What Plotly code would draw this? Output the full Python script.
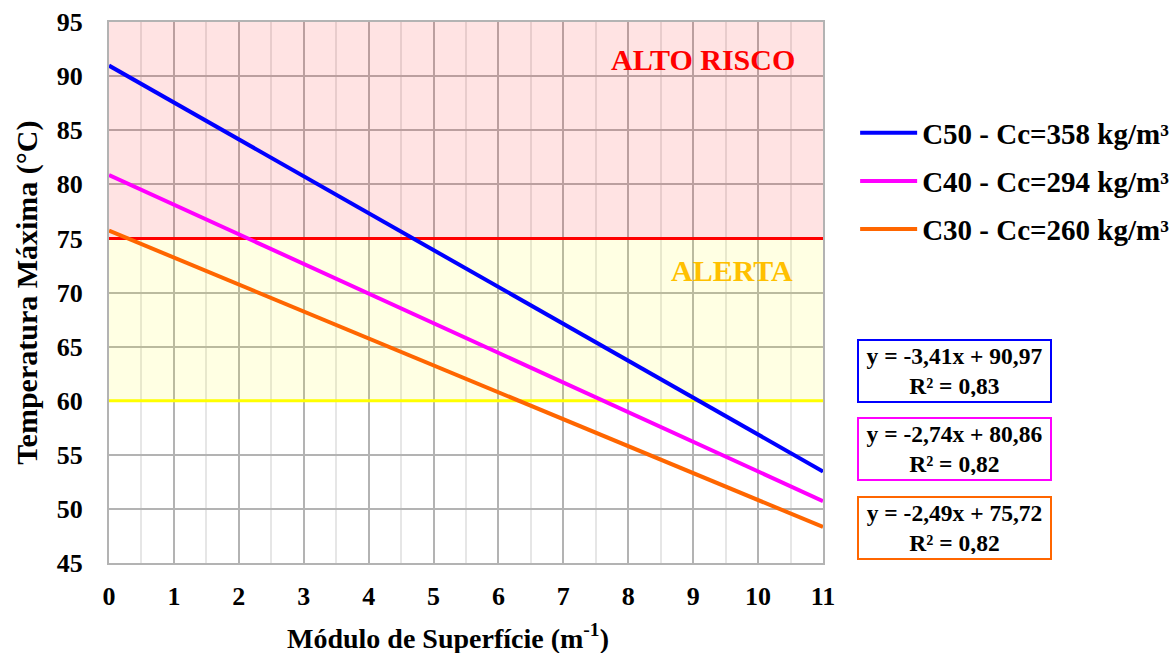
import plotly.graph_objects as go

# Trend lines: temperature vs. surface modulus for three concrete classes
series_names = ["C50 - Cc=358 kg/m³", "C40 - Cc=294 kg/m³", "C30 - Cc=260 kg/m³"]
slopes = [-3.41, -2.74, -2.49]
intercepts = [90.97, 80.86, 75.72]
r_squared = [0.83, 0.82, 0.82]
x_range = [0, 11]
colors = ["#0000ff", "#ff00ff", "#ff6600"]

# Risk thresholds (°C)
alert_limit = 60
high_risk_limit = 75
y_min, y_max = 45, 95

x_ticks = list(range(0, 12))
y_ticks = list(range(45, 100, 5))

FONT = "Liberation Serif, Times New Roman, serif"


def fmt(v):
    return f"{v:.2f}".replace(".", ",")


fig = go.Figure()

x0, x1 = x_range

# Shaded risk zones (semi-transparent, drawn over the grid)
zones = [
    (high_risk_limit, y_max, "rgba(255,0,0,0.11)"),
    (alert_limit, high_risk_limit, "rgba(255,255,0,0.11)"),
]
for lo, hi, fc in zones:
    fig.add_trace(go.Scatter(
        x=[x0, x1, x1, x0, x0], y=[lo, lo, hi, hi, lo],
        mode="lines", fill="toself", fillcolor=fc, line=dict(width=0),
        showlegend=False, hoverinfo="skip",
    ))

# Threshold lines
for level, c in [(high_risk_limit, "#ff0000"), (alert_limit, "#ffff00")]:
    fig.add_trace(go.Scatter(
        x=x_range, y=[level, level], mode="lines",
        line=dict(color=c, width=3), showlegend=False, hoverinfo="skip",
    ))

legend_names = ["legend", "legend2", "legend3"]
for name, m, b, c, lg in zip(series_names, slopes, intercepts, colors, legend_names):
    fig.add_trace(go.Scatter(
        x=x_range,
        y=[m * x + b for x in x_range],
        mode="lines",
        name=name,
        line=dict(color=c, width=4),
        legend=lg,
        showlegend=True,
        hoverinfo="skip",
    ))

# Zone labels
fig.add_annotation(x=9.15, y=91.5, xref="x", yref="y", text="ALTO RISCO",
                   showarrow=False, font=dict(family=FONT, size=30, color="#ff0000", weight="bold"))
fig.add_annotation(x=9.6, y=72.0, xref="x", yref="y", text="ALERTA",
                   showarrow=False, font=dict(family=FONT, size=30, color="#ffc000", weight="bold"))

# Equation boxes
eq_y = [0.355, 0.211, 0.065]
for m, b, r2, c, yy in zip(slopes, intercepts, r_squared, colors, eq_y):
    fig.add_annotation(
        x=1.0476, y=yy, xref="paper", yref="paper", xanchor="left", yanchor="middle",
        text=f"y = {fmt(m)}x + {fmt(b)}<br>R² = {fmt(r2)}",
        showarrow=False, align="center",
        font=dict(family=FONT, size=23.5, color="black", weight="bold"),
        bordercolor=c, borderwidth=2, borderpad=4, bgcolor="white",
        width=183, height=52,
    )

# Axis titles
fig.add_annotation(x=0.475, y=-0.136, xref="paper", yref="paper", yanchor="middle",
                   text="Módulo de Superfície (m<sup>-1</sup>)", showarrow=False,
                   font=dict(family=FONT, size=28, color="black", weight="bold"))
fig.add_annotation(x=-0.116, y=0.5, xref="paper", yref="paper", xanchor="center",
                   text="Temperatura Máxima (°C)", showarrow=False, textangle=-90,
                   font=dict(family=FONT, size=30, color="black", weight="bold"))

legend_common = dict(
    xref="paper", yref="paper", xanchor="left", yanchor="middle",
    bgcolor="rgba(0,0,0,0)", borderwidth=0,
    font=dict(family=FONT, size=29, color="black", weight="bold"),
    itemwidth=57,
)

fig.update_layout(
    width=1173, height=653,
    margin=dict(l=109, r=350, t=22, b=90, autoexpand=False),
    paper_bgcolor="white", plot_bgcolor="white",
    font=dict(family=FONT, color="black"),
    showlegend=True,
    legend=dict(x=1.045, y=0.795, **legend_common),
    legend2=dict(x=1.045, y=0.706, **legend_common),
    legend3=dict(x=1.045, y=0.617, **legend_common),
    xaxis=dict(
        range=[0, 11], tickvals=x_ticks, showgrid=True, gridcolor="#b3b3b3", gridwidth=2,
        minor=dict(dtick=0.5, showgrid=True, gridcolor="#e6e6e6", gridwidth=2),
        showline=True, linecolor="#b3b3b3", linewidth=2, mirror=True,
        zeroline=False, ticks="", ticklabelstandoff=9,
        tickfont=dict(family=FONT, size=26, color="black", weight="bold"),
    ),
    yaxis=dict(
        range=[y_min, y_max], tickvals=y_ticks, showgrid=True, gridcolor="#b3b3b3", gridwidth=2,
        showline=True, linecolor="#b3b3b3", linewidth=2, mirror=True,
        zeroline=False, ticks="", ticklabelstandoff=19,
        tickfont=dict(family=FONT, size=26, color="black", weight="bold"),
    ),
)

fig.write_html("out.html")
